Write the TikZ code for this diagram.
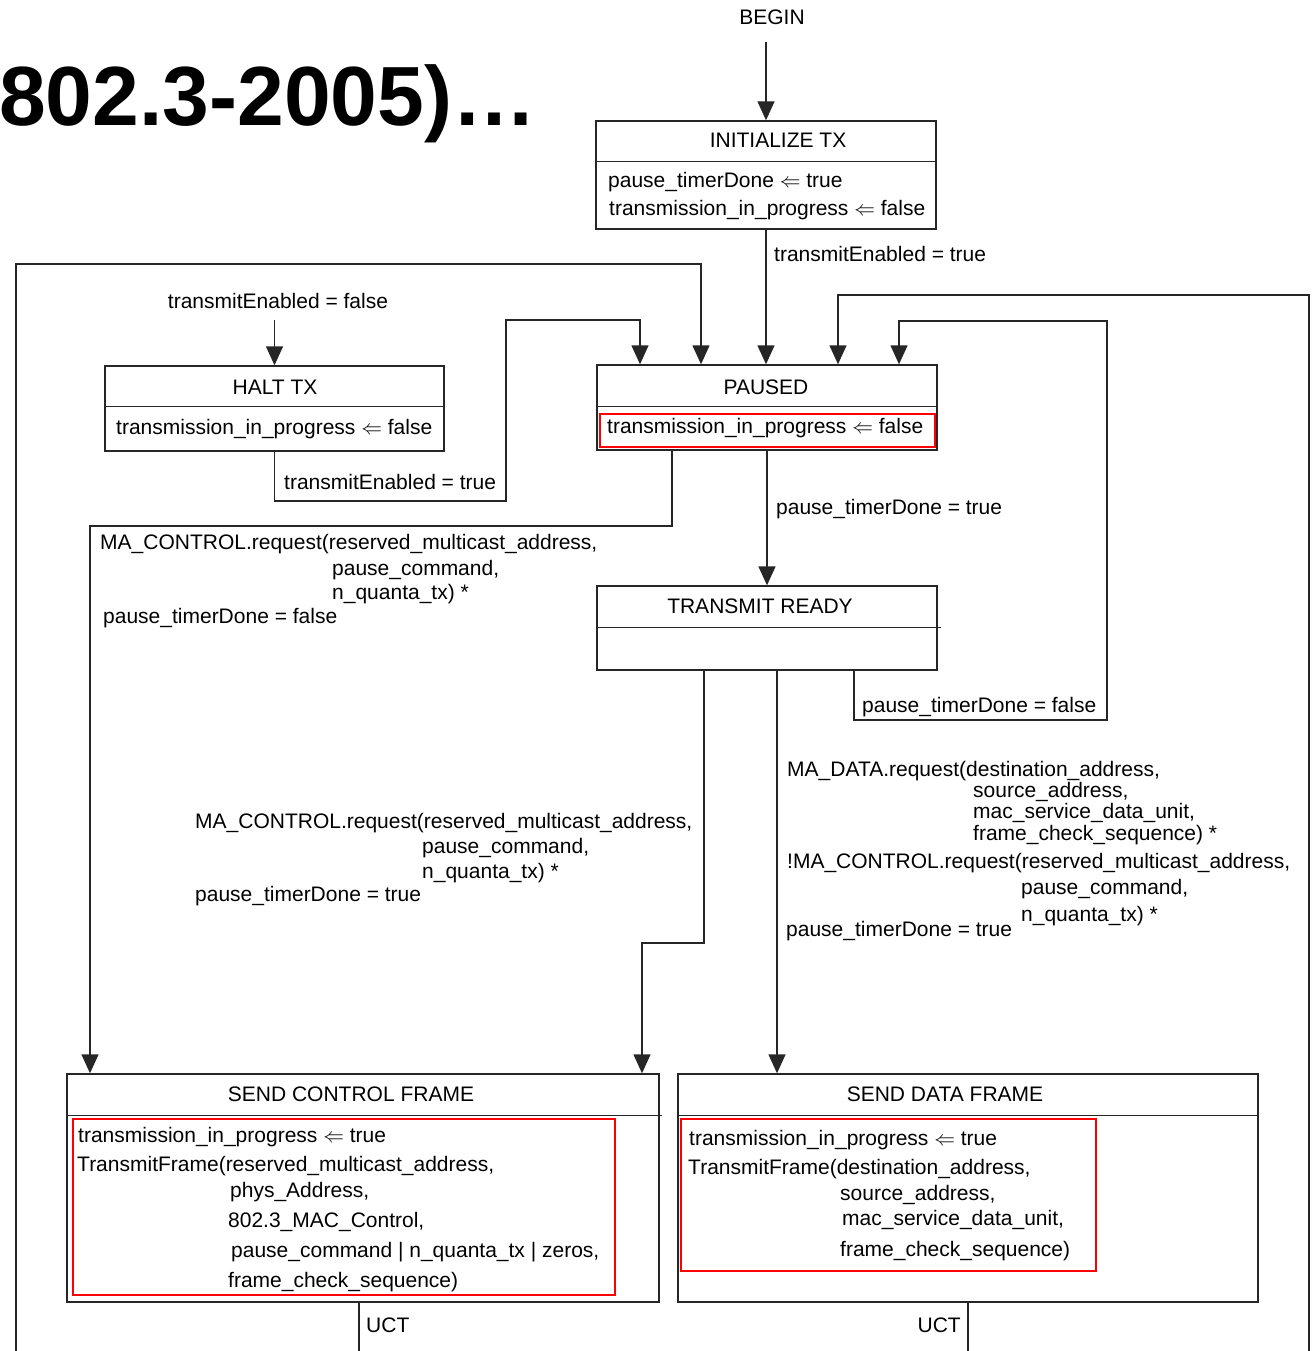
\documentclass[tikz,border=0pt]{standalone}
\usepackage{fontspec}
\setmainfont{Liberation Sans}
\usetikzlibrary{arrows.meta}
\begin{document}
\begin{tikzpicture}[x=1pt,y=-1pt,
  every node/.style={inner sep=0pt},
  ln/.style={draw=black!85, line width=1.4pt},
  arr/.style={ln, -{Triangle[length=19pt,width=17pt]}},
  statebox/.style={draw=black!85, line width=1.4pt, inner sep=0pt},
  lbl/.style={font=\fontsize{21}{25}\selectfont, text height=15pt, text depth=4.5pt, anchor=west, yshift=-2pt},
  ttl/.style={lbl, anchor=center},
  redbox/.style={draw=red, line width=2.5pt}
]
\useasboundingbox (0,0) rectangle (1311,1351);

% title
\node[font=\fontsize{84}{90}\selectfont\bfseries, anchor=base west] (title) at (-1,126) {802.3-2005)…};

% states
\node[statebox, minimum width=340pt, minimum height=108pt] (init) at (766,175) {};
\node[statebox, minimum width=340pt, minimum height=85pt] (paused) at (767,407.5) {};
\node[statebox, minimum width=339pt, minimum height=85pt] (halt) at (274.5,408.5) {};
\node[statebox, minimum width=340pt, minimum height=84pt] (tready) at (767,628) {};
\node[statebox, minimum width=592pt, minimum height=228pt] (sendctl) at (363,1188) {};
\node[statebox, minimum width=580pt, minimum height=228pt] (senddata) at (968,1188) {};

% dividers
\draw[ln] ([yshift=-41pt]init.north west) -- ([yshift=-41pt]init.north east);
\draw[ln] ([yshift=-42pt]paused.north west) -- ([yshift=-42pt]paused.north east);
\draw[ln] ([yshift=-41pt]halt.north west) -- ([yshift=-41pt]halt.north east);
\draw[ln] ([yshift=-42pt]tready.north west) -- ([yshift=-42pt,xshift=3pt]tready.north east);
\draw[ln] ([yshift=-42pt]sendctl.north west) -- ([yshift=-42pt,xshift=2pt]sendctl.north east);
\draw[ln] ([yshift=-42pt]senddata.north west) -- ([yshift=-42pt]senddata.north east);

% red highlight boxes
\draw[redbox] (600,414) rectangle (935,447);
\draw[redbox] (73,1119) rectangle (615,1295);
\draw[redbox] (681,1119) rectangle (1096,1271);

% titles of states
\node[ttl] (begin) at (772,17) {BEGIN};
\node[ttl] (initT) at (778,140) {INITIALIZE TX};
\node[ttl] (haltT) at (275,387) {HALT TX};
\node[ttl] (pausedT) at (766,387) {PAUSED};
\node[ttl] (treadyT) at (760,606) {TRANSMIT READY};
\node[ttl] (sendctlT) at (351,1094) {SEND CONTROL FRAME};
\node[ttl] (senddataT) at (945,1094) {SEND DATA FRAME};

% state actions
\node[lbl] (i1) at (608,180) {pause\_timerDone $\Leftarrow$ true};
\node[lbl] (i2) at (609,208) {transmission\_in\_progress $\Leftarrow$ false};
\node[lbl] (h1) at (116,427) {transmission\_in\_progress $\Leftarrow$ false};
\node[lbl] (p1) at (607,426) {transmission\_in\_progress $\Leftarrow$ false};
\node[lbl] (c1) at (78,1135) {transmission\_in\_progress $\Leftarrow$ true};
\node[lbl] (c2) at (77,1164) {TransmitFrame(reserved\_multicast\_address,};
\node[lbl] (c3) at (230,1190) {phys\_Address,};
\node[lbl] (c4) at (228,1220) {802.3\_MAC\_Control,};
\node[lbl] (c5) at (231,1250) {pause\_command | n\_quanta\_tx | zeros,};
\node[lbl] (c6) at (228,1280) {frame\_check\_sequence)};
\node[lbl] (d1) at (689,1138) {transmission\_in\_progress $\Leftarrow$ true};
\node[lbl] (d2) at (688,1167) {TransmitFrame(destination\_address,};
\node[lbl] (d3) at (840,1193) {source\_address,};
\node[lbl] (d4) at (842,1218) {mac\_service\_data\_unit,};
\node[lbl] (d5) at (840,1249) {frame\_check\_sequence)};

% transition labels
\node[lbl] (te1) at (774,254) {transmitEnabled = true};
\node[ttl] (tef) at (278,301) {transmitEnabled = false};
\node[lbl] (te2) at (284,482) {transmitEnabled = true};
\node[lbl] (ptd1) at (776,507) {pause\_timerDone = true};
\node[lbl] (mc1) at (100,542) {MA\_CONTROL.request(reserved\_multicast\_address,};
\node[lbl] (mc2) at (332,568) {pause\_command,};
\node[lbl] (mc3) at (332,592) {n\_quanta\_tx) *};
\node[lbl] (mc4) at (103,616) {pause\_timerDone = false};
\node[lbl] (ptf) at (862,705) {pause\_timerDone = false};
\node[lbl] (md1) at (787,769) {MA\_DATA.request(destination\_address,};
\node[lbl] (md2) at (973,790) {source\_address,};
\node[lbl] (md3) at (973,811) {mac\_service\_data\_unit,};
\node[lbl] (md4) at (973,833) {frame\_check\_sequence) *};
\node[lbl] (md5) at (787,861) {!MA\_CONTROL.request(reserved\_multicast\_address,};
\node[lbl] (md6) at (1021,887) {pause\_command,};
\node[lbl] (md7) at (1021,914) {n\_quanta\_tx) *};
\node[lbl] (md8) at (786,929) {pause\_timerDone = true};
\node[lbl] (mx1) at (195,821) {MA\_CONTROL.request(reserved\_multicast\_address,};
\node[lbl] (mx2) at (422,846) {pause\_command,};
\node[lbl] (mx3) at (422,871) {n\_quanta\_tx) *};
\node[lbl] (mx4) at (195,894) {pause\_timerDone = true};
\node[lbl] (uct1) at (366,1325) {UCT};
\node[lbl, anchor=east] (uct2) at (961,1325) {UCT};

% free ends
\coordinate (lin) at (16,1351);
\coordinate (rin) at (1309,1351);

% connectors
\draw[arr, shorten <=13pt] (begin.south -| init.north) -- (init.north);
\draw[arr] (init.south) -- (init.south |- paused.north);
\draw[arr, shorten <=7pt] (tef.south -| halt.north) -- (halt.north);
\draw[arr] (halt.south) |- (506,501) -- (506,320) -| ([xshift=-127pt]paused.north);
\draw[arr] (lin) -- (16,264) -| ([xshift=-66pt]paused.north);
\draw[arr] (rin) -- (1309,295) -| ([xshift=71pt]paused.north);
\draw[arr] ([xshift=87pt]tready.south) -- (854,720) -- (1107,720) -- (1107,321) -| ([xshift=132pt]paused.north);
\draw[arr] ([xshift=-95pt]paused.south) -- (672,526) -| ([xshift=-273pt]sendctl.north);
\draw[arr] (paused.south) -- (tready.north);
\draw[arr] ([xshift=-63pt]tready.south) -- (704,943) -| ([xshift=279pt]sendctl.north);
\draw[arr] ([xshift=10pt]tready.south) -- ([xshift=-191pt]senddata.north);
\draw[ln] ([xshift=-4pt]sendctl.south) -- ++(0,49);
\draw[ln] (senddata.south) -- ++(0,49);
\end{tikzpicture}
\end{document}
